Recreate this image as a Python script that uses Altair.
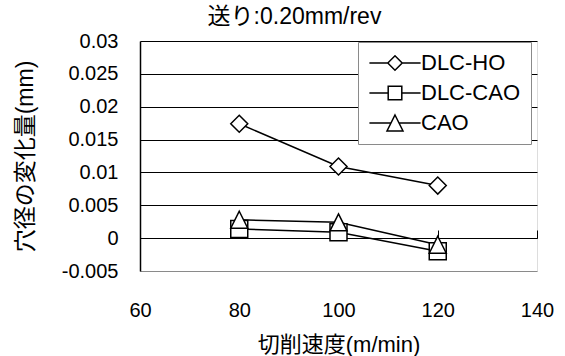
import altair as alt
import pandas as pd

# Cutting speed (m/min) and change of hole diameter (mm) per tool coating
speed = [80, 100, 120]
series_names = ["DLC-HO", "DLC-CAO", "CAO"]
dlc_ho = [0.0174, 0.0109, 0.0080]
dlc_cao = [0.0014, 0.0009, -0.0020]
cao = [0.0028, 0.0024, -0.0010]

x_ticks = [60, 80, 100, 120, 140]
y_ticks = [-0.005, 0, 0.005, 0.01, 0.015, 0.02, 0.025, 0.03]

rows = []
for i, (name, vals) in enumerate(zip(series_names, [dlc_ho, dlc_cao, cao])):
    for s, v in zip(speed, vals):
        rows.append({"speed": s, "change": v, "series": name, "order": i})
df = pd.DataFrame(rows)

FONT = "Liberation Sans, Noto Sans CJK JP"
BORDER = "#8a8a8a"

# plot markers: diamond, square, triangle filling its square box
marker_shapes = ["diamond", "square", "M0,-1L1,1L-1,1Z"]
# legend keys: a short line with the marker on it (1 unit = 8 px at size 256)
legend_shapes = [
    "M-3.2,0H-0.9M0.9,0H3.2M-0.9,0L0,-0.9L0.9,0L0,0.9Z",
    "M-3.2,0H-0.85M0.85,0H3.2M-0.85,-0.85H0.85V0.85H-0.85Z",
    "M-3.2,0H-0.5M0.5,0H3.2M0,-1L1,1H-1Z",
]

x_scale = alt.Scale(domain=[60, 140], nice=False, zero=False)
y_scale = alt.Scale(domain=[-0.005, 0.03], nice=False, zero=False)

y_axis = alt.Axis(
    values=y_ticks,
    labelExpr="'' + datum.value",
    domain=True,
    domainColor="black",
    domainWidth=1.5,
    ticks=False,
    tickSize=0,
    labelPadding=22,
    labelFont=FONT,
    labelFontSize=20,
    labelColor="black",
    grid=True,
    gridColor=alt.condition("datum.value < -0.004", alt.value(BORDER), alt.value("black")),
    gridWidth=1,
    title="穴径の変化量(mm)",
    titleFont=FONT,
    titleFontSize=23,
    titleFontWeight="normal",
    titleColor="black",
    titleX=-115,
    titleY=115,
    titleAngle=270,
    titleAlign="center",
    titleBaseline="middle",
)

base = alt.Chart(df)

lines = base.mark_line(color="black", strokeWidth=1.5).encode(
    x=alt.X(
        "speed:Q",
        scale=x_scale,
        axis=alt.Axis(
            orient="bottom",
            values=x_ticks,
            domain=False,
            ticks=False,
            tickSize=0,
            grid=False,
            labelFlush=False,
            labelPadding=29,
            labelFont=FONT,
            labelFontSize=20,
            labelColor="black",
            title="切削速度(m/min)",
            titleFont=FONT,
            titleFontSize=22,
            titleFontWeight="normal",
            titleColor="black",
            titleY=73,
            titleBaseline="middle",
        ),
    ),
    y=alt.Y("change:Q", scale=y_scale, axis=y_axis),
    detail="series:N",
)

points = base.mark_point(
    filled=True, fill="white", stroke="black", strokeWidth=1.5, size=289, opacity=1
).encode(
    x=alt.X(
        "speed:Q",
        scale=x_scale,
        axis=alt.Axis(
            orient="top",
            offset=-197,
            values=x_ticks,
            labels=False,
            grid=False,
            domain=True,
            domainColor="black",
            domainWidth=1,
            ticks=True,
            tickColor="black",
            tickWidth=1,
            tickSize=8,
            title=None,
        ),
    ),
    y=alt.Y("change:Q", scale=y_scale, axis=y_axis),
    shape=alt.Shape(
        "series:N",
        scale=alt.Scale(domain=series_names, range=marker_shapes),
        legend=None,
    ),
    order=alt.Order("order:Q"),
)

# legend-only layer: no rows survive the filter, the legend keys come from the scale domain
legend_layer = (
    base.transform_filter("datum.order < 0")
    .mark_point(filled=False, color="black", strokeWidth=1.5)
    .encode(
        x=alt.X("speed:Q", scale=x_scale, axis=None),
        y=alt.Y("change:Q", scale=y_scale, axis=y_axis),
        shape=alt.Shape(
            "series:N",
            scale=alt.Scale(domain=series_names, range=legend_shapes),
            legend=alt.Legend(
                title=None,
                orient="none",
                legendX=218,
                legendY=1,
                fillColor="white",
                strokeColor=BORDER,
                padding=10,
                symbolSize=256,
                symbolOffset=16,
                symbolStrokeWidth=1.5,
                symbolStrokeColor="black",
                symbolOpacity=1,
                labelFont=FONT,
                labelFontSize=22,
                labelColor="black",
                labelOffset=15,
                rowPadding=8,
            ),
        ),
    )
)

chart = (
    alt.layer(lines, points, legend_layer)
    .resolve_scale(shape="independent")
    .resolve_axis(x="independent")
    .properties(
        width=397,
        height=230,
        autosize=alt.AutoSizeParams(type="none"),
        padding={"left": 140, "top": 41, "right": 28, "bottom": 85},
        title=alt.TitleParams(
            "送り:0.20mm/rev",
            font=FONT,
            fontSize=23,
            fontWeight="normal",
            color="black",
            anchor="middle",
            frame="group",
            dx=-44,
            dy=31,
            offset=22,
            baseline="middle",
        ),
    )
    .configure_view(stroke=BORDER, strokeWidth=2)
    .configure_legend(strokeWidth=1.5)
    .configure(background="white")
)

chart.save("out.html", embed_options={"renderer": "svg", "actions": False})
